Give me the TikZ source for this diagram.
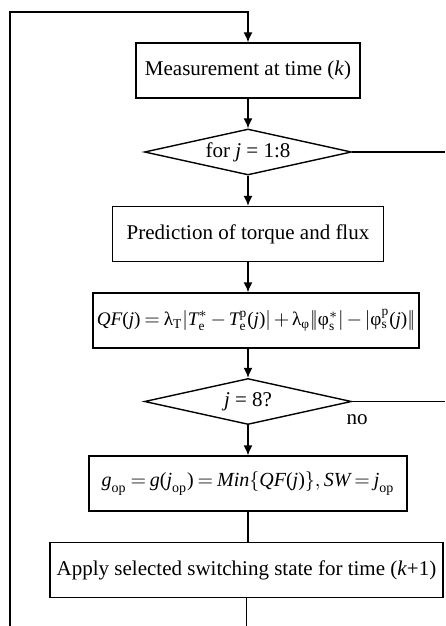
\documentclass[tikz,border=0pt]{standalone}
\usepackage{amsmath}
\usepackage{fontspec}
\setmainfont{Liberation Serif}
\usetikzlibrary{shapes.geometric,arrows.meta}

\begin{document}
\begin{tikzpicture}[x=0.5pt,y=-0.5pt,line width=0.7pt,
        font=\fontsize{10.5}{12.6}\selectfont,
        blk/.style={draw,rectangle,minimum height=27.5pt,inner sep=2pt},
        cond/.style={draw,diamond,aspect=4.5,inner sep=0pt,minimum width=103.5pt,minimum height=23pt},
        eqn/.style={execute at begin node={\medmuskip=2.5mu\thickmuskip=3.5mu}},
        arr/.style={-{Latex[length=5pt,width=4.5pt]}}]
    \useasboundingbox (0,0) rectangle (445,626);

    % blocks of the loop
    \node[blk,minimum width=112pt] (meas) at (248,70.5) {Measurement at time (\textit{k})};
    \node[cond] (forj) at (248,152) {for \textit{j} = 1:8};
    \node[blk,minimum width=135.5pt] (pred) at (248,234) {Prediction of torque and flux};
    \node[blk,eqn,minimum width=156.5pt,font=\fontsize{9.6}{11.5}\selectfont] (qf) at (256,320.5)
        {$\textit{QF}\text{(}\textit{j}\text{)} = \text{λ}_{\text{T}}\lvert\textit{T}^{*}_{\text{e}} - \textit{T}^{\text{p}}_{\text{e}}\text{(}\textit{j}\text{)}\rvert + \text{λ}_{\text{φ}}\lvert\!\lvert\text{φ}^{*}_{\text{s}}\rvert - \lvert\text{φ}^{\text{p}}_{\text{s}}\text{(}\textit{j}\text{)}\rvert\!\rvert$};
    \node[cond] (last) at (248,401.5) {\textit{j} = 8?};
    \node[blk,eqn,minimum width=159pt,font=\fontsize{10}{12}\selectfont] (gop) at (248,483.5)
        {$\textit{g}_{\text{op}} = \textit{g}\text{(}\textit{j}_{\text{op}}\text{)} = \textit{Min}\{\textit{QF}\text{(}\textit{j}\text{)}\}, \textit{SW} = \textit{j}_{\text{op}}$};
    \node[blk,minimum width=196.5pt] (apply) at (246.5,570) {Apply selected switching state for time (\textit{k}+1)};
    \node (no) at (357,420) {no};

    % free ends
    \coordinate (top) at (10,12);
    \coordinate (bot) at (10,626);
    \coordinate (r1) at (445,152);
    \coordinate (r2) at (445,401.5);

    \draw[arr] (bot) -- (top) -- (meas.north |- top) -- (meas.north);
    \draw[arr] (meas) -- (forj);
    \draw[arr] (forj) -- (pred);
    \draw[arr] (pred.south) -- (pred.south |- qf.north);
    \draw[arr] (pred.south |- qf.south) -- (last.north);
    \draw[arr] (last) -- (gop);
    \draw (gop) -- (gop.south |- apply.north);
    \draw (apply.south) -- (apply.south |- bot);
    \draw (forj.east) -- (r1);
    \draw (last.east) -- (r2);
\end{tikzpicture}
\end{document}
